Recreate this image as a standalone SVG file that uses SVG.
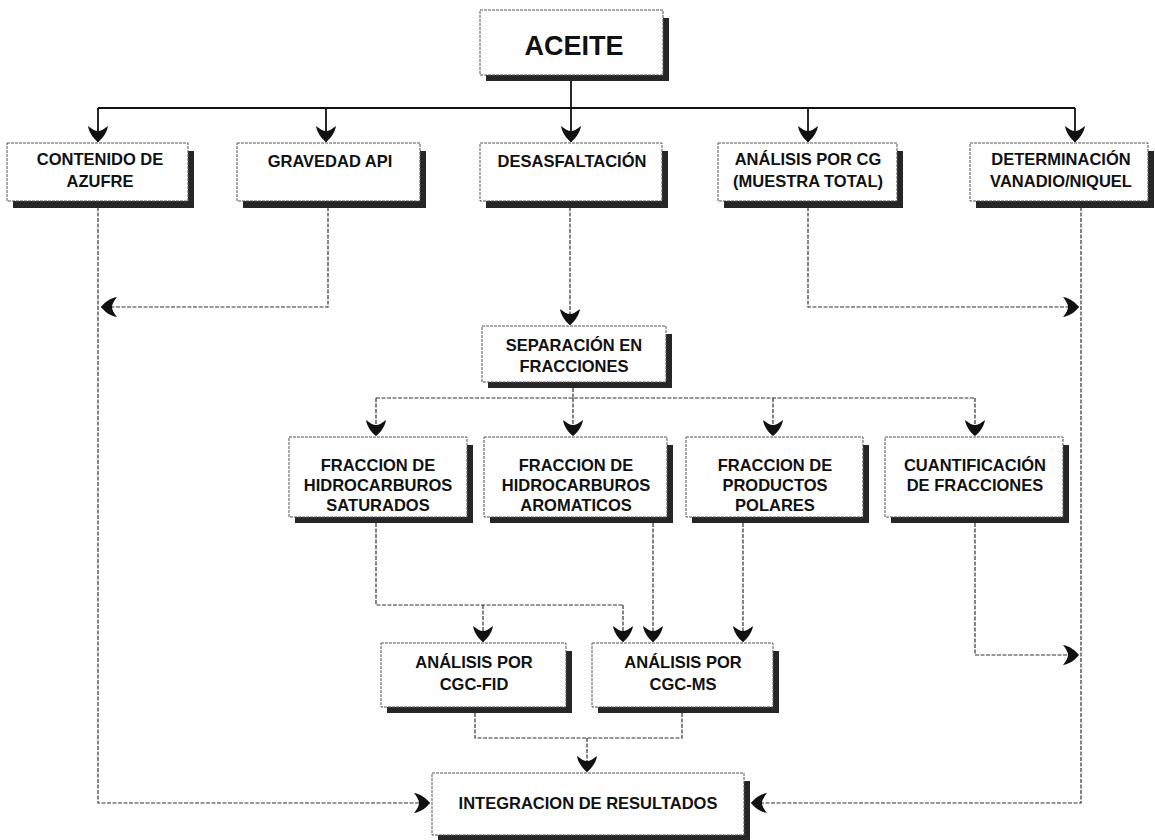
<svg xmlns="http://www.w3.org/2000/svg" width="1155" height="840" viewBox="0 0 1155 840">
<style>
  .bx { fill: #fff; stroke: #555; stroke-width: 1; stroke-dasharray: 3 1; }
  .sh { fill: #262626; }
  .t { font-family: "Liberation Sans", Arial, sans-serif; font-weight: bold; font-size: 16.5px; fill: #111; text-anchor: middle; }
  .big { font-size: 27px; }
  .c { fill: none; stroke: #333; stroke-width: 1.2; stroke-dasharray: 4 1.5; }
  .ck { fill: none; stroke: #111; stroke-width: 1.8; }
</style>
<defs>
  <marker id="ah" viewBox="-17 -11 18 22" refX="0" refY="0" markerWidth="18" markerHeight="22" markerUnits="userSpaceOnUse" orient="auto">
    <path d="M0,0 C-3,-4 -9,-9 -16,-10 C-13,-6 -11,-3 -11,0 C-11,3 -13,6 -16,10 C-9,9 -3,4 0,0 Z" fill="#111"/>
  </marker>
</defs>

<g id="connectors">
  <path class="ck" d="M571,80 V108"/>
  <path class="ck" d="M98,108 H1075"/>
  <path class="ck" d="M98,108 V142" marker-end="url(#ah)"/>
  <path class="ck" d="M326,108 V142" marker-end="url(#ah)"/>
  <path class="ck" d="M571,108 V142" marker-end="url(#ah)"/>
  <path class="ck" d="M808,108 V142" marker-end="url(#ah)"/>
  <path class="ck" d="M1075,108 V142" marker-end="url(#ah)"/>

  <path class="c" d="M98,207 V803 H430" marker-end="url(#ah)"/>
  <path class="c" d="M328,207 V307 H101" marker-end="url(#ah)"/>
  <path class="c" d="M570,207 V325" marker-end="url(#ah)"/>
  <path class="c" d="M808,207 V307 H1079" marker-end="url(#ah)"/>
  <path class="c" d="M1081,207 V803 H751" marker-end="url(#ah)"/>

  <path class="c" d="M573,388 V398"/>
  <path class="c" d="M376,398 H975"/>
  <path class="c" d="M376,398 V436" marker-end="url(#ah)"/>
  <path class="c" d="M573,398 V436" marker-end="url(#ah)"/>
  <path class="c" d="M773,398 V436" marker-end="url(#ah)"/>
  <path class="c" d="M975,398 V436" marker-end="url(#ah)"/>

  <path class="c" d="M376,523 V605 H623"/>
  <path class="c" d="M483,605 V642" marker-end="url(#ah)"/>
  <path class="c" d="M623,605 V642" marker-end="url(#ah)"/>
  <path class="c" d="M653,523 V642" marker-end="url(#ah)"/>
  <path class="c" d="M743,523 V642" marker-end="url(#ah)"/>
  <path class="c" d="M975,523 V655 H1079" marker-end="url(#ah)"/>

  <path class="c" d="M475,713 V738 H682 V713"/>
  <path class="c" d="M587,738 V772" marker-end="url(#ah)"/>
</g>

<g id="aceite">
  <rect class="sh" x="486" y="18" width="183" height="63"/>
  <rect class="bx" x="480" y="10" width="183" height="65"/>
  <text class="t big" x="574" y="55">ACEITE</text>
</g>

<g id="contenido-azufre">
  <rect class="sh" x="13" y="151" width="181" height="57"/>
  <rect class="bx" x="7" y="143" width="181" height="58"/>
  <text class="t" x="100" y="165">CONTENIDO DE</text>
  <text class="t" x="100" y="187">AZUFRE</text>
</g>
<g id="gravedad-api">
  <rect class="sh" x="243" y="151" width="183" height="57"/>
  <rect class="bx" x="237" y="143" width="183" height="58"/>
  <text class="t" x="330" y="167">GRAVEDAD API</text>
</g>
<g id="desasfaltacion">
  <rect class="sh" x="486" y="151" width="182" height="57"/>
  <rect class="bx" x="480" y="143" width="182" height="58"/>
  <text class="t" x="572" y="167">DESASFALTACIÓN</text>
</g>
<g id="analisis-cg">
  <rect class="sh" x="724" y="151" width="179" height="57"/>
  <rect class="bx" x="718" y="143" width="179" height="58"/>
  <text class="t" x="808" y="165">ANÁLISIS POR CG</text>
  <text class="t" x="808" y="187">(MUESTRA TOTAL)</text>
</g>
<g id="vanadio-niquel">
  <rect class="sh" x="976" y="151" width="178" height="57"/>
  <rect class="bx" x="970" y="143" width="178" height="58"/>
  <text class="t" x="1061" y="165">DETERMINACIÓN</text>
  <text class="t" x="1061" y="187">VANADIO/NIQUEL</text>
</g>

<g id="separacion">
  <rect class="sh" x="488" y="334" width="184" height="54"/>
  <rect class="bx" x="482" y="326" width="184" height="56"/>
  <text class="t" x="574" y="351">SEPARACIÓN EN</text>
  <text class="t" x="574" y="372">FRACCIONES</text>
</g>

<g id="saturados">
  <rect class="sh" x="295" y="445" width="178" height="78"/>
  <rect class="bx" x="289" y="437" width="178" height="80"/>
  <text class="t" x="378" y="471">FRACCION DE</text>
  <text class="t" x="378" y="491">HIDROCARBUROS</text>
  <text class="t" x="378" y="511">SATURADOS</text>
</g>
<g id="aromaticos">
  <rect class="sh" x="490" y="445" width="183" height="78"/>
  <rect class="bx" x="484" y="437" width="183" height="80"/>
  <text class="t" x="576" y="471">FRACCION DE</text>
  <text class="t" x="576" y="491">HIDROCARBUROS</text>
  <text class="t" x="576" y="511">AROMATICOS</text>
</g>
<g id="polares">
  <rect class="sh" x="692" y="445" width="177" height="78"/>
  <rect class="bx" x="686" y="437" width="177" height="80"/>
  <text class="t" x="775" y="471">FRACCION DE</text>
  <text class="t" x="775" y="491">PRODUCTOS</text>
  <text class="t" x="775" y="511">POLARES</text>
</g>
<g id="cuantificacion">
  <rect class="sh" x="891" y="445" width="178" height="78"/>
  <rect class="bx" x="885" y="437" width="178" height="80"/>
  <text class="t" x="975" y="471">CUANTIFICACIÓN</text>
  <text class="t" x="975" y="491">DE FRACCIONES</text>
</g>

<g id="cgc-fid">
  <rect class="sh" x="387" y="651" width="185" height="62"/>
  <rect class="bx" x="381" y="643" width="185" height="64"/>
  <text class="t" x="474" y="668">ANÁLISIS POR</text>
  <text class="t" x="474" y="690">CGC-FID</text>
</g>
<g id="cgc-ms">
  <rect class="sh" x="598" y="651" width="181" height="62"/>
  <rect class="bx" x="592" y="643" width="181" height="64"/>
  <text class="t" x="683" y="668">ANÁLISIS POR</text>
  <text class="t" x="683" y="690">CGC-MS</text>
</g>

<g id="integracion">
  <rect class="sh" x="438" y="781" width="312" height="59"/>
  <rect class="bx" x="432" y="773" width="312" height="62"/>
  <text class="t" x="588" y="809">INTEGRACION DE RESULTADOS</text>
</g>
</svg>
